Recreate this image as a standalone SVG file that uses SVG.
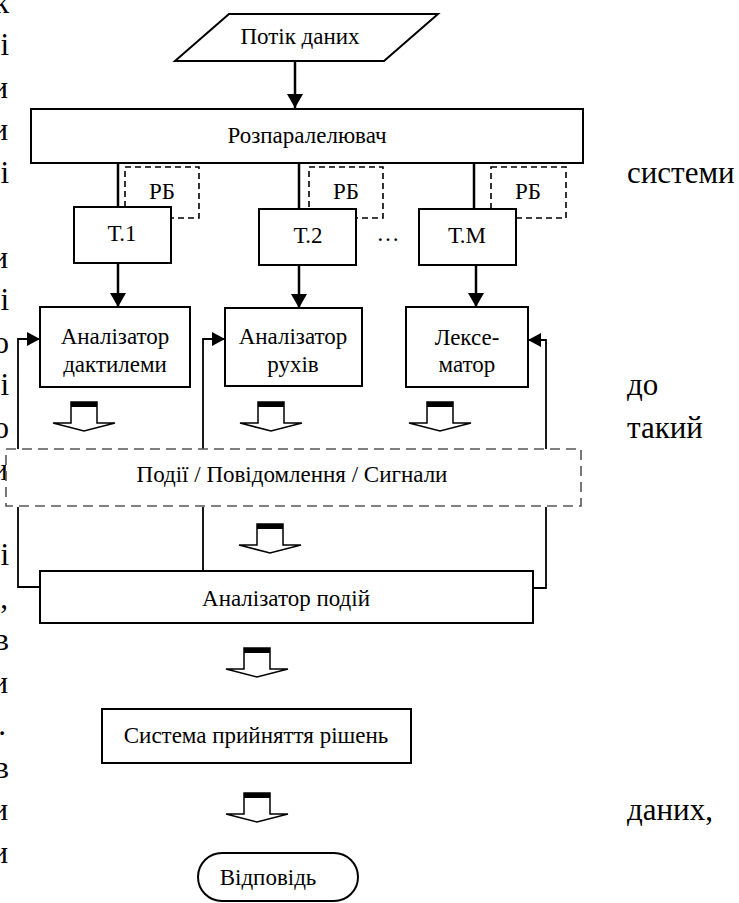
<svg xmlns="http://www.w3.org/2000/svg" width="739" height="903" viewBox="0 0 739 903">
<style>
text{font-family:"Liberation Serif","Times New Roman",serif;fill:#000}
.t{font-size:23px;text-anchor:middle}
.b{font-size:31px}
.m{font-size:31px;text-anchor:end}
.box{fill:#fff;stroke:#000;stroke-width:2}
.rb{fill:none;stroke:#000;stroke-width:1.6;stroke-dasharray:6 4}
.ev{fill:#fff;stroke:#555;stroke-width:1.6;stroke-dasharray:10 6}
.ln{fill:none;stroke:#000;stroke-width:2.5}
.fb{fill:none;stroke:#000;stroke-width:1.8}
.ba{fill:#fff;stroke:#000;stroke-width:1.5}
</style>
<defs>
<marker id="ah" markerUnits="userSpaceOnUse" markerWidth="15" markerHeight="16" refX="14" refY="8" orient="auto">
<path d="M0,0 L14,8 L0,16 z" fill="#000"/>
</marker>
<marker id="ah2" markerUnits="userSpaceOnUse" markerWidth="14" markerHeight="14" refX="13" refY="7" orient="auto">
<path d="M0,0 L13,7 L0,14 z" fill="#000"/>
</marker>
<g id="blk">
<path class="ba" d="M-13,21 L-13,0 L13,0 L13,21 L31,21 L0,29 L-31,21 Z"/>
<rect x="-13" y="0" width="26" height="5" fill="#000"/>
</g>
</defs>

<!-- margin text fragments -->
<g id="margin">
<text class="m" x="9" y="13">к</text>
<text class="m" x="9" y="55">і</text>
<text class="m" x="8" y="98">и</text>
<text class="m" x="8" y="140">и</text>
<text class="m" x="9" y="183">і</text>
<text class="m" x="8" y="268">и</text>
<text class="m" x="9" y="310">і</text>
<text class="m" x="9" y="353">о</text>
<text class="m" x="9" y="395">і</text>
<text class="m" x="9" y="438">о</text>
<text class="m" x="8" y="480">и</text>
<text class="m" x="9" y="565">і</text>
<text class="m" x="8" y="608">,</text>
<text class="m" x="9" y="650">в</text>
<text class="m" x="8" y="693">и</text>
<text class="m" x="6" y="735">.</text>
<text class="m" x="9" y="778">в</text>
<text class="m" x="8" y="820">и</text>
<text class="m" x="8" y="863">и</text>
<text class="b" x="627" y="183">системи</text>
<text class="b" x="627" y="395">до</text>
<text class="b" x="627" y="438">такий</text>
<text class="b" x="627" y="820">даних,</text>
</g>

<!-- connectors -->
<g id="connectors">
<line class="ln" x1="295" y1="61" x2="295" y2="108" marker-end="url(#ah)"/>
<line class="ln" x1="118" y1="163" x2="118" y2="207"/>
<line class="ln" x1="299" y1="163" x2="299" y2="209"/>
<line class="ln" x1="474" y1="163" x2="474" y2="209"/>
<line class="ln" x1="118" y1="263" x2="118" y2="307" marker-end="url(#ah)"/>
<line class="ln" x1="299" y1="265" x2="299" y2="308" marker-end="url(#ah)"/>
<line class="ln" x1="476" y1="265" x2="476" y2="307" marker-end="url(#ah)"/>
<path class="fb" d="M40,587 H18 V507"/>
<path class="fb" d="M18,449 V339 H40" marker-end="url(#ah2)"/>
<path class="fb" d="M203,449 V339 H225" marker-end="url(#ah2)"/>
<path class="fb" d="M203,507 V580 H234" marker-end="url(#ah2)"/>
<path class="fb" d="M546,449 V340 H528" marker-end="url(#ah2)"/>
<path class="fb" d="M546,507 V588 H533"/>
<use href="#blk" x="84" y="402"/>
<use href="#blk" x="271" y="402"/>
<use href="#blk" x="440" y="402"/>
<use href="#blk" x="270" y="524"/>
<use href="#blk" x="257" y="648"/>
<use href="#blk" x="257" y="793"/>
</g>

<g id="input">
<path class="box" d="M229,14 H438 L384,61 H175 Z"/>
<text class="t" x="300" y="44">Потік даних</text>
</g>
<g id="splitter">
<rect class="box" x="31" y="109" width="552" height="54"/>
<text class="t" x="307" y="143">Розпаралелювач</text>
</g>
<g id="rb1">
<rect class="rb" x="125" y="167" width="74" height="51"/>
<text class="t" x="162" y="199">РБ</text>
</g>
<g id="rb2">
<rect class="rb" x="309" y="167" width="74" height="51"/>
<text class="t" x="346" y="199">РБ</text>
</g>
<g id="rb3">
<rect class="rb" x="491" y="167" width="75" height="51"/>
<text class="t" x="528" y="199">РБ</text>
</g>
<g id="t1">
<rect class="box" x="74" y="207" width="97" height="56"/>
<text class="t" x="122" y="241">Т.1</text>
</g>
<g id="t2">
<rect class="box" x="259" y="209" width="97" height="56"/>
<text class="t" x="308" y="243">Т.2</text>
</g>
<g id="dots">
<text class="t" x="388" y="241">…</text>
</g>
<g id="tm">
<rect class="box" x="419" y="209" width="97" height="56"/>
<text class="t" x="467" y="243">Т.М</text>
</g>
<g id="dactyl">
<rect class="box" x="40" y="307" width="150" height="80"/>
<text class="t" x="115" y="344">Аналізатор</text>
<text class="t" x="115" y="372">дактилеми</text>
</g>
<g id="motion">
<rect class="box" x="225" y="308" width="137" height="78"/>
<text class="t" x="293" y="344">Аналізатор</text>
<text class="t" x="293" y="372">рухів</text>
</g>
<g id="lexemator">
<rect class="box" x="406" y="307" width="122" height="80"/>
<text class="t" x="467" y="345">Лексе-</text>
<text class="t" x="467" y="372">матор</text>
</g>
<g id="events">
<rect class="ev" x="6" y="449" width="575" height="57"/>
<text class="t" x="292" y="482">Події / Повідомлення / Сигнали</text>
</g>
<g id="eventanalyzer">
<rect class="box" x="40" y="571" width="493" height="52"/>
<text class="t" x="286" y="606">Аналізатор подій</text>
</g>
<g id="decision">
<rect class="box" x="102" y="709" width="309" height="54"/>
<text class="t" x="256" y="743">Система прийняття рішень</text>
</g>
<g id="answer">
<rect class="box" x="198" y="853" width="160" height="48" rx="24"/>
<text class="t" x="268" y="885">Відповідь</text>
</g>
</svg>
